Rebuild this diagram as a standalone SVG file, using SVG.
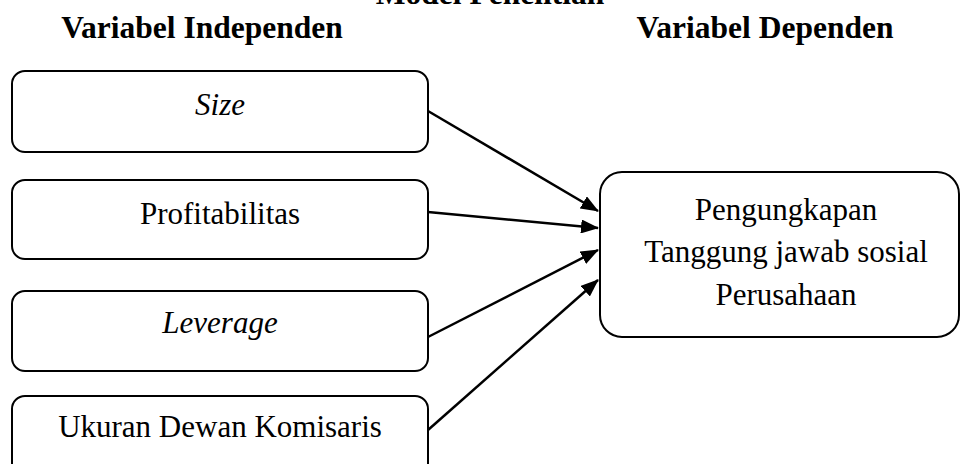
<svg xmlns="http://www.w3.org/2000/svg" width="961" height="464" viewBox="0 0 961 464">
<style>
.box{fill:#fff;stroke:#000;stroke-width:2}
.t{font-family:"Liberation Serif","Times New Roman",serif;font-size:31px;fill:#000;text-anchor:middle}
.h{font-family:"Liberation Serif","Times New Roman",serif;font-size:31.5px;font-weight:bold;fill:#000;text-anchor:middle}
.i{font-style:italic}
.c{stroke:#000;stroke-width:2.5;fill:none;marker-end:url(#ah)}
</style>
<defs>
<marker id="ah" markerUnits="userSpaceOnUse" markerWidth="18" markerHeight="14" refX="17" refY="7" orient="auto" viewBox="0 0 18 14">
<path d="M0,0 L18,7 L0,14 z" fill="#000"/>
</marker>
</defs>
<g id="headers">
<text class="h" x="490" y="4">Model Penelitian</text>
<text class="h" x="202" y="38">Variabel Independen</text>
<text class="h" x="765" y="38">Variabel Dependen</text>
</g>
<g id="connectors">
<line class="c" x1="428" y1="111" x2="598" y2="211"/>
<line class="c" x1="428" y1="212" x2="598" y2="228"/>
<line class="c" x1="428" y1="337" x2="598" y2="250"/>
<line class="c" x1="428" y1="430" x2="598" y2="280"/>
</g>
<g id="node-size">
<rect class="box" x="12" y="71" width="416" height="81" rx="13"/>
<text class="t i" x="220" y="115">Size</text>
</g>
<g id="node-profitabilitas">
<rect class="box" x="12" y="180" width="416" height="79" rx="13"/>
<text class="t" x="220" y="224">Profitabilitas</text>
</g>
<g id="node-leverage">
<rect class="box" x="12" y="291" width="416" height="80" rx="13"/>
<text class="t i" x="220" y="333">Leverage</text>
</g>
<g id="node-ukuran">
<rect class="box" x="12" y="396" width="416" height="90" rx="13"/>
<text class="t" x="220" y="437">Ukuran Dewan Komisaris</text>
</g>
<g id="node-pengungkapan">
<rect class="box" x="600" y="172" width="359" height="165" rx="22"/>
<text class="t" x="786" y="220">Pengungkapan</text>
<text class="t" x="786" y="262">Tanggung jawab sosial</text>
<text class="t" x="786" y="305">Perusahaan</text>
</g>
</svg>
